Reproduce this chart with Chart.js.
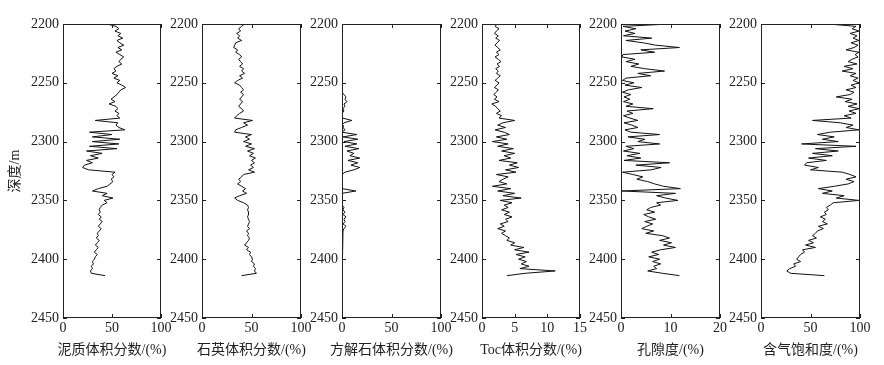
<!DOCTYPE html>
<html>
<head>
<meta charset="utf-8">
<script src="https://cdn.jsdelivr.net/npm/chart.js@4.4.1/dist/chart.umd.min.js"></script>
<style>
  body { margin: 0; background: #fff; }
  #wrap { position: relative; width: 884px; height: 365px; overflow: hidden; background: #fff; }
  #wrap canvas { position: absolute; top: 0; }
</style>
</head>
<body>
<div id="wrap"></div>
<script>
// DATA (depth in m, one reading every 2 m)

var depth = [
    2200, 2202, 2204, 2206, 2208, 2210, 2212, 2214, 2216, 2218,
    2220, 2222, 2224, 2226, 2228, 2230, 2232, 2234, 2236, 2238,
    2240, 2242, 2244, 2246, 2248, 2250, 2252, 2254, 2256, 2258,
    2260, 2262, 2264, 2266, 2268, 2270, 2272, 2274, 2276, 2278,
    2280, 2282, 2284, 2286, 2288, 2290, 2292, 2294, 2296, 2298,
    2300, 2302, 2304, 2306, 2308, 2310, 2312, 2314, 2316, 2318,
    2320, 2322, 2324, 2326, 2328, 2330, 2332, 2334, 2336, 2338,
    2340, 2342, 2344, 2346, 2348, 2350, 2352, 2354, 2356, 2358,
    2360, 2362, 2364, 2366, 2368, 2370, 2372, 2374, 2376, 2378,
    2380, 2382, 2384, 2386, 2388, 2390, 2392, 2394, 2396, 2398,
    2400, 2402, 2404, 2406, 2408, 2410, 2412, 2414
];

var shale = [
    45, 54, 57, 53, 59, 56, 61, 55, 58, 62,
    56, 60, 54, 58, 62, 59, 57, 60, 55, 52,
    54, 50, 56, 52, 58, 55, 60, 64, 59, 57,
    55, 52, 49, 53, 47, 54, 56, 53, 57, 55,
    58, 33, 56, 54, 57, 63, 27, 50, 30, 58,
    30, 57, 27, 55, 24, 40, 28, 36, 24, 30,
    22, 20, 26, 53, 50, 52, 49, 51, 48, 45,
    36, 30, 45, 40, 51, 42, 45, 40, 38, 37,
    38, 36, 39, 37, 40, 38, 36, 39, 37, 35,
    36, 34, 37, 35, 33, 36, 34, 32, 35, 33,
    32, 30, 31, 29, 30, 28, 29, 43
];

var quartz = [
    43, 40, 37, 39, 35, 38, 36, 40, 34, 33,
    32, 36, 34, 38, 40, 37, 39, 41, 38, 42,
    40, 43, 38, 41, 36, 33, 38, 40, 42, 39,
    42, 40, 38, 41, 39, 37, 40, 42, 38, 35,
    33, 51, 42, 46, 40, 34, 33, 50, 44, 48,
    42, 50, 44, 53, 46, 52, 48, 54, 50, 53,
    49, 52, 47, 53, 42, 40, 37, 39, 36, 40,
    44, 41, 45, 38, 33, 36, 42, 46, 47, 46,
    47, 47, 46, 47, 48, 47, 46, 48, 45, 47,
    46, 48, 47, 45, 43, 47, 45, 49, 48, 50,
    51, 50, 53, 52, 54, 53, 55, 40
];

var calcite = [
    0, 0, 0, 0, 0, 0, 0, 0, 0, 0,
    0, 0, 0, 0, 0, 0, 0, 1, 0, 0,
    0, 0, 0, 0, 0, 0, 0, 0, 1, 0,
    2, 4, 3, 5, 2, 3, 1, 2, 0, 1,
    0, 10, 2, 0, 1, 3, 0, 15, 1, 16,
    2, 15, 3, 17, 5, 12, 8, 18, 6, 16,
    9, 18, 12, 3, 0, 0, 0, 0, 0, 0,
    0, 14, 0, 0, 0, 0, 1, 0, 2, 1,
    3, 1, 4, 2, 3, 1, 4, 2, 1, 0,
    0, 0, 0, 0, 0, 1, 0, 0, 1, 0,
    0, 0, 1, 0, 0, 0, 0, 0
];

var toc = [
    2.3, 2.0, 2.6, 2.2, 1.9, 2.5, 2.1, 2.7, 2.3, 2.0,
    2.4, 2.8, 2.2, 2.6, 2.0, 2.5, 2.9, 2.3, 2.7, 2.1,
    2.5, 2.2, 2.8, 2.4, 2.0, 2.6, 2.3, 1.9, 2.5, 2.2,
    1.8, 2.3, 1.9, 2.6, 1.5, 2.1, 2.4, 2.8, 2.2, 3.0,
    2.6, 5.0, 3.2, 2.4, 3.6, 2.0, 3.4, 4.2, 2.2, 3.8,
    1.6, 4.0, 2.4, 4.8, 3.0, 5.0, 3.4, 4.4, 2.6, 5.4,
    4.2, 5.6, 3.6, 5.2, 2.2, 4.0, 3.2, 2.6, 3.8, 1.6,
    4.4, 2.4, 5.0, 3.2, 6.0, 2.8, 4.6, 3.4, 4.0, 3.0,
    4.2, 3.4, 4.6, 3.6, 4.0, 2.8, 3.4, 2.4, 3.6, 3.0,
    3.6, 4.2, 3.8, 5.0, 4.4, 6.4, 5.0, 7.2, 5.2, 6.6,
    5.6, 6.8, 6.0, 7.2, 5.8, 11.2, 6.6, 3.8
];

var porosity = [
    9.8, 0.4, 3.0, 0.8, 2.8, 0.5, 6.2, 1.0, 4.5, 7.0,
    11.8, 4.0, 6.8, 0.4, 0.2, 2.8, 1.0, 3.6, 2.0, 4.8,
    8.8, 3.4, 6.0, 1.0, 0.3, 2.6, 0.8, 4.2, 1.5, 0.3,
    2.0, 0.6, 1.8, 0.5, 2.4, 1.0, 6.5, 1.2, 2.4, 0.5,
    1.8, 3.4, 0.6, 2.2, 3.4, 0.8, 2.0, 7.8, 1.4, 4.8,
    3.4, 7.8, 1.0, 2.6, 0.5, 3.8, 1.2, 4.0, 0.6, 9.8,
    3.0, 8.1, 6.1, 0.3, 2.4, 4.4, 3.2, 5.4, 6.8, 8.6,
    12.0, 0.2, 11.0, 7.2, 9.0, 11.5, 7.2, 8.0, 6.0, 5.2,
    6.8, 4.6, 5.6, 7.0, 4.8, 6.4, 5.2, 4.2, 6.6, 5.0,
    8.4, 9.8, 7.8, 10.2, 8.6, 11.0, 8.0, 6.2, 7.6, 5.6,
    7.8, 6.4, 8.0, 6.6, 7.2, 5.4, 8.4, 11.8
];

var gasSat = [
    68, 96, 92, 99, 90, 97, 93, 99, 91, 98,
    94, 86, 99, 95, 98, 92, 88, 97, 84, 93,
    82, 96, 90, 98, 93, 99, 91, 96, 86, 94,
    90, 76, 92, 85, 97, 88, 99, 89, 96, 84,
    91, 52, 80, 93, 86, 99, 70, 57, 74, 62,
    78, 41, 96, 55, 78, 52, 72, 48, 66, 46,
    44, 58, 50, 82, 90, 96, 86, 94, 88, 74,
    58, 72, 62, 84, 76, 99, 73, 70, 66, 68,
    64, 66, 60, 65, 62, 67, 58, 63, 57, 55,
    52, 56, 48, 53, 45, 55, 42, 44, 40, 38,
    36, 40, 33, 35, 29, 26, 30, 64
];

var curves = [shale, quartz, calcite, toc, porosity, gasSat];
var xTitles = ['泥质体积分数/(%)', '石英体积分数/(%)', '方解石体积分数/(%)', 'Toc体积分数/(%)', '孔隙度/(%)', '含气饱和度/(%)'];
var xMax = [100, 100, 100, 15, 20, 100];
var xStep = [50, 50, 50, 5, 10, 50];
var depthTitle = '深度/m';

// LAYOUT

var plotLeft = [63, 202, 342, 482, 621, 761];
var plotWidth = [98, 99, 99, 98, 99, 99];
var plotTop = 24, plotBottom = 318, H = 365;
var fontFamily = "'Liberation Serif', 'Noto Sans CJK SC', serif";

Chart.defaults.font.family = fontFamily;
Chart.defaults.font.size = 14;
Chart.defaults.color = '#222';

// box round the track, inward ticks, title under it
var trackFrame = {
    id: 'trackFrame',
    afterDraw: function (chart, args, opts) {
        var ctx = chart.ctx, a = chart.chartArea;
        var x = chart.scales.x, y = chart.scales.y;
        ctx.save();
        ctx.strokeStyle = '#222';
        ctx.lineWidth = 1;
        ctx.strokeRect(a.left + 0.5, a.top + 0.5, a.right - a.left - 1, a.bottom - a.top - 1);
        ctx.beginPath();
        y.ticks.forEach(function (t) {
            var py = Math.round(y.getPixelForValue(t.value)) + 0.5;
            ctx.moveTo(a.left, py); ctx.lineTo(a.left + 4, py);
            ctx.moveTo(a.right, py); ctx.lineTo(a.right - 4, py);
        });
        x.ticks.forEach(function (t) {
            var px = Math.round(x.getPixelForValue(t.value)) + 0.5;
            ctx.moveTo(px, a.bottom); ctx.lineTo(px, a.bottom - 4);
            ctx.moveTo(px, a.top); ctx.lineTo(px, a.top + 4);
        });
        ctx.stroke();
        ctx.fillStyle = '#222';
        ctx.font = '14px ' + fontFamily;
        ctx.textAlign = 'center';
        ctx.textBaseline = 'middle';
        ctx.fillText(opts.title, (a.left + a.right) / 2, 350);
        ctx.restore();
    }
};

var wrap = document.getElementById('wrap');

function makeTrack(i) {
    var yw = i === 0 ? plotLeft[0] : 50;
    var cv = document.createElement('canvas');
    cv.width = yw + plotWidth[i] + 14;
    cv.height = H;
    cv.style.left = (plotLeft[i] - yw) + 'px';
    wrap.appendChild(cv);

    var points = depth.map(function (d, k) {
        return { x: curves[i][k], y: d };
    });

    return new Chart(cv, {
        type: 'scatter',
        data: {
            datasets: [{
                data: points,
                showLine: true,
                borderColor: '#111',
                borderWidth: 1,
                borderJoinStyle: 'bevel',
                pointRadius: 0
            }]
        },
        options: {
            responsive: false,
            animation: false,
            devicePixelRatio: 1,
            layout: { padding: { top: plotTop, right: 14, bottom: 0, left: 0 } },
            plugins: {
                legend: { display: false },
                tooltip: { enabled: false },
                trackFrame: { title: xTitles[i] }
            },
            scales: {
                x: {
                    type: 'linear',
                    min: 0,
                    max: xMax[i],
                    grid: { display: false, drawTicks: false },
                    border: { display: false },
                    ticks: { stepSize: xStep[i], padding: 2, maxRotation: 0, autoSkip: false,
                             callback: function (v) { return String(v); } },
                    afterFit: function (s) {
                        s.height = H - plotBottom;
                        s.paddingLeft = 0;
                        s.paddingRight = 0;
                    }
                },
                y: {
                    type: 'linear',
                    reverse: true,
                    min: 2200,
                    max: 2450,
                    grid: { display: false, drawTicks: false },
                    border: { display: false },
                    ticks: { stepSize: 50, padding: 4, autoSkip: false,
                             callback: function (v) { return String(v); } },
                    title: { display: i === 0, text: depthTitle, padding: { top: 7, bottom: 0 } },
                    afterFit: function (s) {
                        s.width = yw;
                        s.paddingTop = 0;
                        s.paddingBottom = 0;
                    }
                }
            }
        },
        plugins: [trackFrame]
    });
}

for (var i = 0; i < curves.length; i++) {
    makeTrack(i);
}
</script>
</body>
</html>
